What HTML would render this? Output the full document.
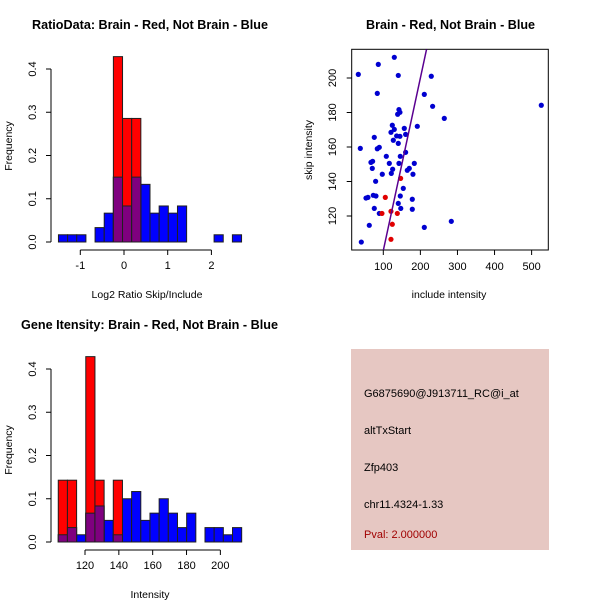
<!DOCTYPE html>
<html><head><meta charset="utf-8"><style>
html,body{margin:0;padding:0;background:#fff;}
svg{display:block;font-family:"Liberation Sans",sans-serif;}
.t{font-weight:bold;font-size:13px;}
.a{font-size:11px;}
.l{font-size:10.5px;}
</style></head><body>
<svg id="s" width="600" height="600" viewBox="0 0 600 600" xmlns="http://www.w3.org/2000/svg">
<text class="t" x="32" y="29" textLength="236" lengthAdjust="spacingAndGlyphs">RatioData: Brain - Red, Not Brain - Blue</text>
<text class="t" x="366" y="29" textLength="169" lengthAdjust="spacingAndGlyphs">Brain - Red, Not Brain - Blue</text>
<text class="t" x="21" y="329" textLength="257" lengthAdjust="spacingAndGlyphs">Gene Itensity: Brain - Red, Not Brain - Blue</text>
<text class="l" x="147" y="298" text-anchor="middle">Log2 Ratio Skip/Include</text>
<text class="l" transform="translate(12,146) rotate(-90)" text-anchor="middle">Frequency</text>
<text class="l" x="449" y="298" text-anchor="middle">include intensity</text>
<text class="l" transform="translate(312,150) rotate(-90)" text-anchor="middle">skip intensity</text>
<text class="l" x="150" y="598" text-anchor="middle">Intensity</text>
<text class="l" transform="translate(12,450) rotate(-90)" text-anchor="middle">Frequency</text>
<g>
<rect x="351" y="349" width="198" height="201" fill="#e6c7c2"/>
<text class="a" x="364" y="397">G6875690@J913711_RC@i_at</text>
<text class="a" x="364" y="434">altTxStart</text>
<text class="a" x="364" y="471">Zfp403</text>
<text class="a" x="364" y="508">chr11.4324-1.33</text>
<text class="a" x="364" y="538" fill="#a00000">Pval: 2.000000</text>
</g>
</svg>
<script>
// Ratio histogram data
const ratioStart = -1.5;
const ratioWidth = 0.2095;
const ratioBlue = [0.0167,0.0167,0.0167,0,0.0333,0.0667,0.15,0.0833,0.15,0.1333,0.0667,0.0833,0.0667,0.0833,0,0,0,0.0167,0,0.0167];
const ratioRed  = [0,0,0,0,0,0,0.4286,0.2857,0.2857,0,0,0,0,0,0,0,0,0,0,0];
const ratioXTicks = [-1,0,1,2];
const freqTicks = [0,0.1,0.2,0.3,0.4];
// Intensity histogram data
const intStart = 104.2;
const intWidth = 5.42;
const intBlue = [0.0167,0.0333,0.0167,0.0667,0.0833,0.05,0.0167,0.1,0.1167,0.05,0.0667,0.1,0.0667,0.0333,0.0667,0,0.0333,0.0333,0.0167,0.0333];
const intRed  = [0.1429,0.1429,0,0.4286,0.1429,0,0.1429,0,0,0,0,0,0,0,0,0,0,0,0,0];
const intXTicks = [120,140,160,180,200];
// Scatter data
const blueX = [32.6,129.7,86.5,140.4,229.4,83.8,210.6,233.0,526.1,142.2,144.9,138.7,264.5,191.7,124.3,129.7,156.6,120.7,160.2,136.0,144.9,75.7,127.0,140.4,38.0,89.2,83.8,160.2,108.1,145.8,66.7,71.2,116.2,142.2,183.6,70.3,125.2,170.1,164.7,121.6,97.3,180.0,79.3,153.9,73.0,80.2,145.8,53.3,58.6,178.2,140.4,147.1,75.7,178.2,89.2,62.2,210.6,283.4,40.7];
const blueY = [202.1,212.0,207.9,201.5,201.0,191.1,190.5,183.6,184.2,181.7,180.1,179.0,176.6,172.0,172.6,170.2,170.8,168.5,167.3,166.4,166.2,165.6,163.9,162.1,159.2,159.8,159.0,156.9,154.6,154.6,151.1,151.7,150.5,150.5,150.5,147.6,147.1,147.6,146.5,144.7,144.2,144.2,140.1,136.0,132.0,131.6,131.6,130.4,130.8,129.7,127.3,124.4,124.4,123.9,121.5,114.6,113.4,116.9,104.9];
const redX = [146.7,105.4,96.4,120.7,137.8,124.3,120.7];
const redY = [141.8,130.8,121.5,122.7,121.5,115.2,106.5];
const scatterXTicks = [100,200,300,400,500];
const scatterYTicks = [120,140,160,180,200];

const NS = "http://www.w3.org/2000/svg";
const svg = document.getElementById('s');
function mk(tag, attrs, parent){
  const e = document.createElementNS(NS, tag);
  for (const k in attrs) e.setAttribute(k, attrs[k]);
  (parent||svg).appendChild(e);
  return e;
}

function hist(g, start, width, blue, red, xs, ys, xticks, yAxisX, xAxisY, prefix){
  blue.forEach((v,i)=>{
    if (v<=0) return;
    const r = mk('rect',{x:xs(start+i*width),y:ys(v),width:xs(start+(i+1)*width)-xs(start+i*width),height:ys(0)-ys(v),fill:'#0000ff',stroke:'#202020','stroke-width':1},g);
    
    
  });
  red.forEach((v,i)=>{
    if (v<=0) return;
    const r = mk('rect',{x:xs(start+i*width),y:ys(v),width:xs(start+(i+1)*width)-xs(start+i*width),height:ys(0)-ys(v),fill:'#ff0000',stroke:'#202020','stroke-width':1},g);
    
    
    const m = Math.min(v, blue[i]);
    if (m>0){
      const p = mk('rect',{x:xs(start+i*width),y:ys(m),width:xs(start+(i+1)*width)-xs(start+i*width),height:ys(0)-ys(m),fill:'#7f007f',stroke:'#202020','stroke-width':1},g);
      
      
    }
  });
  mk('line',{x1:yAxisX,x2:yAxisX,y1:ys(0),y2:ys(0.4),stroke:'#000'},g);
  freqTicks.forEach(t=>{
    mk('line',{x1:yAxisX-5,x2:yAxisX,y1:ys(t),y2:ys(t),stroke:'#000'},g);
    const tx = mk('text',{class:'a',transform:`translate(${yAxisX-15},${ys(t)}) rotate(-90)`,'text-anchor':'middle'},g);
    tx.textContent = t.toFixed(1);
    
    
  });
  mk('line',{x1:xs(xticks[0]),x2:xs(xticks[xticks.length-1]),y1:xAxisY,y2:xAxisY,stroke:'#000'},g);
  xticks.forEach(t=>{
    mk('line',{x1:xs(t),x2:xs(t),y1:xAxisY,y2:xAxisY+5,stroke:'#000'},g);
    const tx = mk('text',{class:'a',x:xs(t),y:xAxisY+19,'text-anchor':'middle'},g);
    tx.textContent = t;
    
    
  });
}

const g1 = mk('g',{});


const xs1 = v => 124 + v*43.7;
const ys1 = v => 242 - v*432.5;
hist(g1, ratioStart, ratioWidth, ratioBlue, ratioRed, xs1, ys1, ratioXTicks, 51, 250, 'ratio');

const g3 = mk('g',{});


const xs3 = v => 85 + (v-120)*1.692;
const ys3 = v => 542 - v*432.5;
hist(g3, intStart, intWidth, intBlue, intRed, xs3, ys3, intXTicks, 51, 550, 'intensity');

const g2 = mk('g',{});


const xs2 = v => 383.3 + (v-100)*0.3708;
const ys2 = v => 216 - (v-120)*1.725;
const box = mk('rect',{x:351.7,y:49.3,width:196.6,height:200.7,fill:'none',stroke:'#000'},g2);


blueX.forEach((x,i)=>{
  const c = mk('circle',{cx:xs2(x),cy:ys2(blueY[i]),r:2.6,fill:'#0000d0'},g2);
  
  
});
redX.forEach((x,i)=>{
  const c = mk('circle',{cx:xs2(x),cy:ys2(redY[i]),r:2.6,fill:'#e00000'},g2);
  
  
});
const yLo = 100.3, yHi = 216.6;
const ln = mk('line',{x1:xs2(yLo),y1:ys2(yLo),x2:xs2(yHi),y2:ys2(yHi),stroke:'#5a0090','stroke-width':1.5},g2);


scatterXTicks.forEach(t=>{
  mk('line',{x1:xs2(t),x2:xs2(t),y1:250,y2:255,stroke:'#000'},g2);
  const tx = mk('text',{class:'a',x:xs2(t),y:270,'text-anchor':'middle'},g2);
  tx.textContent = t;
  
  
});
scatterYTicks.forEach(t=>{
  mk('line',{x1:346.7,x2:351.7,y1:ys2(t),y2:ys2(t),stroke:'#000'},g2);
  const tx = mk('text',{class:'a',transform:`translate(336,${ys2(t)}) rotate(-90)`,'text-anchor':'middle'},g2);
  tx.textContent = t;
  
  
});
</script>
</body></html>
